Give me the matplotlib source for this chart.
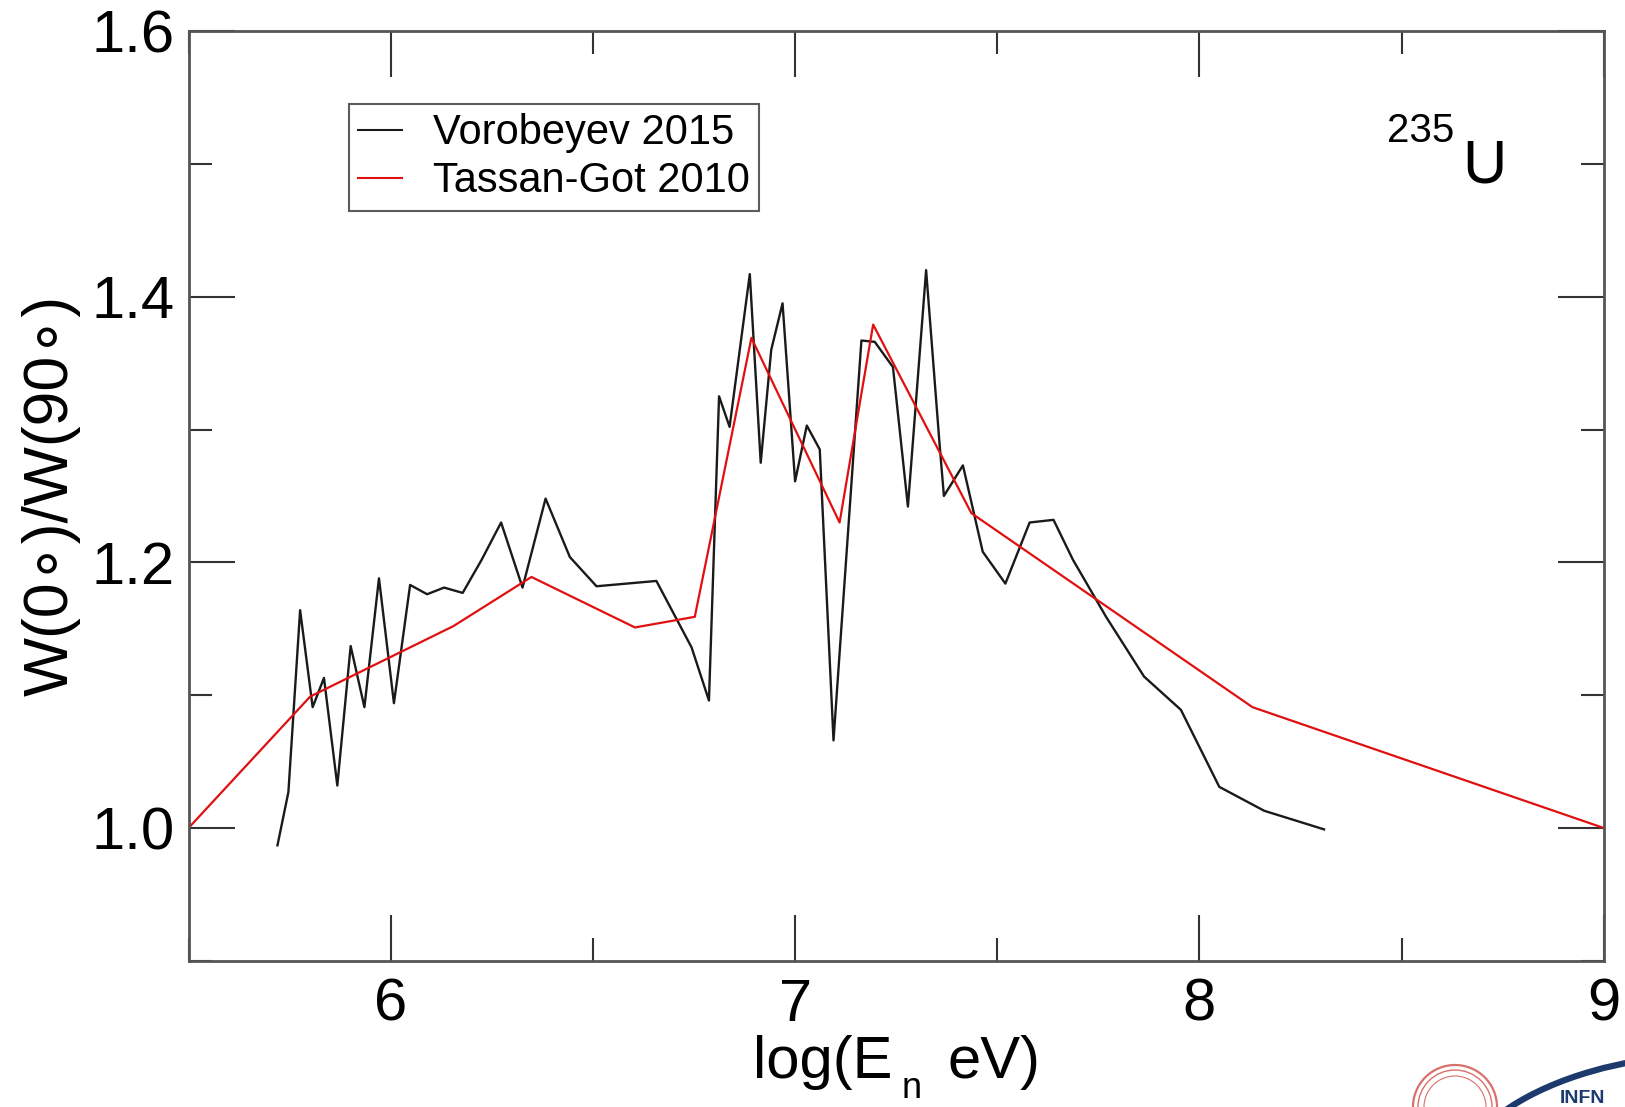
import matplotlib
matplotlib.use("Agg")
import matplotlib.pyplot as plt
from matplotlib.patches import Circle, Ellipse

plt.rcParams["font.family"] = ["Liberation Sans", "DejaVu Sans"]

# Vorobeyev 2015: anisotropy W(0)/W(90) vs log10(En/eV)
vorobeyev_logE = [5.720, 5.747, 5.776, 5.807, 5.835, 5.868, 5.901, 5.935, 5.971,
                  6.008, 6.048, 6.090, 6.132, 6.178, 6.225, 6.273, 6.326, 6.383,
                  6.443, 6.509, 6.657, 6.744, 6.787, 6.812, 6.838, 6.888, 6.915,
                  6.941, 6.969, 7.000, 7.029, 7.061, 7.095, 7.164, 7.197, 7.242,
                  7.279, 7.324, 7.357, 7.368, 7.415, 7.464, 7.520, 7.580, 7.639,
                  7.687, 7.769, 7.863, 7.954, 8.049, 8.160, 8.308]
vorobeyev_ratio = [0.987, 1.027, 1.164, 1.091, 1.113, 1.032, 1.137, 1.091, 1.188,
                   1.094, 1.183, 1.176, 1.181, 1.177, 1.202, 1.230, 1.181, 1.248,
                   1.204, 1.182, 1.186, 1.136, 1.096, 1.325, 1.302, 1.417, 1.275,
                   1.360, 1.395, 1.261, 1.303, 1.285, 1.066, 1.367, 1.366, 1.347,
                   1.242, 1.420, 1.290, 1.250, 1.273, 1.208, 1.184, 1.230, 1.232,
                   1.202, 1.159, 1.114, 1.089, 1.031, 1.013, 0.999]

# Tassan-Got 2010
tassan_logE = [5.50, 5.801, 6.155, 6.348, 6.604, 6.752, 6.892, 7.110, 7.193,
               7.436, 8.131, 9.00]
tassan_ratio = [1.000, 1.099, 1.152, 1.189, 1.151, 1.159, 1.369, 1.230, 1.379,
                1.237, 1.091, 1.000]

x_major = [6, 7, 8, 9]
x_major_labels = ["6", "7", "8", "9"]
y_major = [1.0, 1.2, 1.4, 1.6]
y_major_labels = ["1.0", "1.2", "1.4", "1.6"]
x_minor = [5.5, 6.5, 7.5, 8.5]
y_minor = [0.9, 1.1, 1.3, 1.5]

W, H = 1625, 1107
fig = plt.figure(figsize=(W / 100, H / 100), dpi=100)
ax = fig.add_axes([0.116, 0.132, 0.871, 0.840])

ax.plot(vorobeyev_logE, vorobeyev_ratio, color="#1a1a1a", lw=1.7,
        label="Vorobeyev 2015")
ax.plot(tassan_logE, tassan_ratio, color="#e01010", lw=1.6,
        label="Tassan-Got 2010")

ax.set_xlim(5.5, 9.0)
ax.set_ylim(0.9, 1.6)
ax.set_xticks(x_major)
ax.set_xticklabels(x_major_labels)
ax.set_yticks(y_major)
ax.set_yticklabels(y_major_labels)
ax.set_xticks(x_minor, minor=True)
ax.set_yticks(y_minor, minor=True)

for sp in ax.spines.values():
    sp.set_color("#555555")
    sp.set_linewidth(2.0)

ax.tick_params(which="both", direction="in", top=True, right=True,
               color="#333333", width=1.5)
ax.tick_params(which="major", length=33, labelsize=43, pad=10)
ax.tick_params(which="minor", length=16.5)
ax.tick_params(axis="x", which="major", pad=12)

ax.set_ylabel("W(0\u2218)/W(90\u2218)", fontsize=45, labelpad=8)

# x-axis title with a low-set subscript
fig.text(753 / W, (H - 1078) / H, "log(E", fontsize=43, ha="left",
         va="baseline")
fig.text(902 / W, (H - 1098) / H, "n", fontsize=26, ha="left",
         va="baseline")
fig.text(947 / W, (H - 1078) / H, "eV)", fontsize=43, ha="left",
         va="baseline")

leg = ax.legend(loc="upper left", bbox_to_anchor=(0.1133, 0.9215),
                borderaxespad=0, fontsize=30, frameon=True, fancybox=False,
                handlelength=1.05, handletextpad=0.75, labelspacing=0.20,
                borderpad=0.22)
leg.get_frame().set_edgecolor("#333333")
leg.get_frame().set_linewidth(1.5)
for line in leg.get_lines():
    line.set_linewidth(1.5)

ax.text(0.8467, 0.8806, "235", transform=ax.transAxes, fontsize=29,
        ha="left", va="baseline")
ax.text(0.900, 0.8366, "U", transform=ax.transAxes, fontsize=44,
        ha="left", va="baseline")

# institutional marks in the lower right corner
for r, lw in [(42, 1.6), (37, 1.0), (31, 0.8)]:
    fig.add_artist(Circle((1455, 0), r, transform=None, fill=False,
                          ec="#d9706a", lw=lw))
fig.add_artist(Ellipse((1720, -93), 544, 292, transform=None, fill=False,
                       ec="#1d3a6e", lw=4.5))
fig.text(1560 / W, 4 / H, "INFN", fontsize=14, fontweight="bold",
         color="#1d3a6e", ha="left", va="baseline")

fig.savefig("out.png", dpi=100)
